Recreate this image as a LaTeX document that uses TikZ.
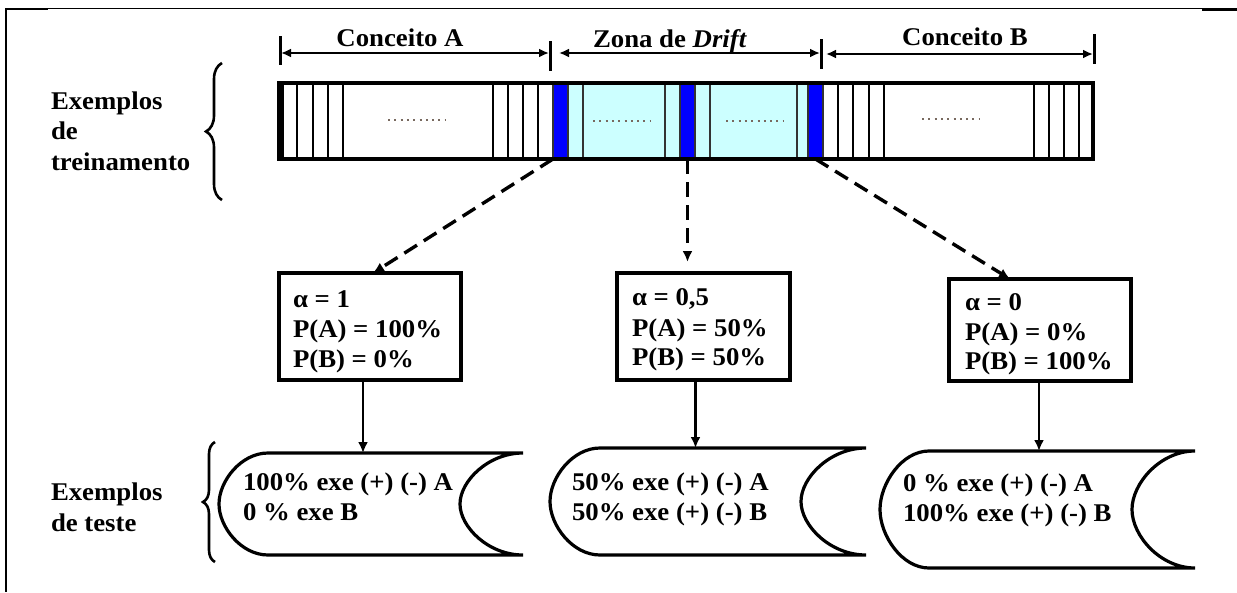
\documentclass[tikz,border=0pt]{standalone}
\usepackage{fontspec}
\setmainfont{Liberation Serif}[FakeStretch=1.05]
\usetikzlibrary{arrows.meta,decorations.pathreplacing,calc}
\definecolor{cellblue}{RGB}{0,0,255}
\definecolor{cellcyan}{RGB}{204,255,255}
\definecolor{dotcol}{RGB}{120,105,95}

% outline of a "stored data" flowchart symbol built on a named node
\newcommand\storeddata[3]{%
  \draw[scrollline] let \p1=(#1.north west), \p2=(#1.south east),
      \n1={(\y1-\y2)/2} in
    (\x1+#2,\y1) -- (\x2,\y1)
    .. controls (\x2-0.552*#3,\y1) and (\x2-#3,\y1-0.552*\n1) .. (\x2-#3,\y1-\n1)
    .. controls (\x2-#3,\y2+0.552*\n1) and (\x2-0.552*#3,\y2) .. (\x2,\y2)
    -- (\x1+#2,\y2)
    .. controls (\x1+#2-0.552*#2,\y2) and (\x1,\y2+0.552*\n1) .. (\x1,\y2+\n1)
    .. controls (\x1,\y1-0.552*\n1) and (\x1+#2-0.552*#2,\y1) .. (\x1+#2,\y1)
    -- cycle;}

\begin{document}
\begin{tikzpicture}[x=1pt,y=-1pt,
  lbl/.style={font=\fontsize{25.5}{30}\selectfont\bfseries, inner sep=0pt, outer sep=0pt},
  txt/.style={lbl, anchor=base west},
  ctxt/.style={lbl, anchor=base},
  tick/.style={line width=3pt},
  dimarrow/.style={line width=2.8pt, {Latex[length=10pt,width=9pt]}-{Latex[length=10pt,width=9pt]}},
  thinsep/.style={line width=1.6pt},
  cyancell/.style={fill=cellcyan, draw=black!80, line width=1.4pt},
  bluecell/.style={fill=cellblue, draw=black!80, line width=1.4pt, minimum width=15pt,
    minimum height=76pt, inner sep=0pt, outer sep=0pt, anchor=north west},
  dotsline/.style={dotcol, line width=2pt, dash pattern=on 2pt off 4.3pt},
  probbox/.style={draw, line width=3.6pt, inner sep=0pt, outer sep=0pt, anchor=north west},
  dasharrow/.style={line width=3.4pt, dash pattern=on 15pt off 8pt, -{Latex[length=11pt,width=10pt]}},
  solidarrow/.style={line width=2.8pt, -{Latex[length=11pt,width=10pt]}},
  scrollline/.style={line width=3.2pt},
  scrollnode/.style={inner sep=0pt, outer sep=0pt, anchor=north west},
  bracest/.style={decorate, line width=2.6pt}
]
\useasboundingbox (0,0) rectangle (1237,592);

% page frame fragments
\draw[line width=1.8pt] (5,8.5) -- (1237,8.5);
\draw[line width=2.8pt] (5,9) -- (48,9);
\draw[line width=2.8pt] (1202,9.5) -- (1237,9.5);
\draw[line width=2.8pt] (6,8) -- (6,592);

% side labels
\node[txt] (tr1) at (51,109) {Exemplos};
\node[txt] (tr2) at (51,139) {de};
\node[txt] (tr3) at (51,170) {treinamento};
\node[txt] (te1) at (51,500) {Exemplos};
\node[txt] (te2) at (51,531) {de teste};
\draw[bracest, decoration={brace, amplitude=16pt}] (222,200) -- (222,63);
\draw[bracest, decoration={brace, amplitude=12pt}] (215,562) -- (215,442);

% training stream: cyan drift cells
\draw[cyancell] (568,83) rectangle (583,159);
\draw[cyancell] (583,83) rectangle (665,159);
\draw[cyancell] (665,83) rectangle (680,159);
\draw[cyancell] (695,83) rectangle (710,159);
\draw[cyancell] (710,83) rectangle (797,159);
\draw[cyancell] (797,83) rectangle (808,159);
% blue marker cells
\node[bluecell] (bl1) at (553,83) {};
\node[bluecell] (bl2) at (680,83) {};
\node[bluecell] (bl3) at (808,83) {};
% example separators
\foreach \x in {297,313,328,343,493,508,523,538,838,853,869,884,1034,1049,1064,1079}
  \draw[thinsep] (\x,83) -- (\x,159);
% dotted fillers
\draw[dotsline] (388,120) -- (446,120);
\draw[dotsline] (593,121) -- (650,121);
\draw[dotsline] (726,121) -- (784,121);
\draw[dotsline] (922,119) -- (980,119);
% stream outline
\node[draw, line width=3.6pt, minimum width=814pt, minimum height=76pt, inner sep=0pt,
  outer sep=0pt, anchor=north west] (bar) at (279,83) {};
\draw[line width=5.5pt] (280.8,82) -- (280.8,160);

% concept spans
\draw[tick] (280,36) -- (280,65);
\draw[tick] (550,41) -- (550,71);
\draw[tick] (821,39) -- (821,69);
\draw[tick] (1094,34) -- (1094,64);
\draw[dimarrow] (281,53) -- (549,53);
\draw[dimarrow] (559,53) -- (820,53);
\draw[dimarrow] (826,54) -- (1093,54);
\node[ctxt] (ca) at (400,46) {Conceito A};
\node[ctxt] (zd) at (670,47) {Zona de \textit{Drift}};
\node[ctxt] (cb) at (965,45) {Conceito B};

% weighting boxes
\node[probbox, minimum width=182pt, minimum height=107pt] (b1) at (279,273) {};
\node[probbox, minimum width=173pt, minimum height=107pt] (b2) at (617,273) {};
\node[probbox, minimum width=182pt, minimum height=102pt] (b3) at (949,279) {};
\node[txt] at (293,307) {α = 1};
\node[txt] at (293,337) {P(A) = 100\%};
\node[txt] at (293,367) {P(B) = 0\%};
\node[txt] at (632,305) {α = 0,5};
\node[txt] at (632,336) {P(A) = 50\%};
\node[txt] at (632,365) {P(B) = 50\%};
\node[txt] at (965,310) {α = 0};
\node[txt] at (965,340) {P(A) = 0\%};
\node[txt] at (965,369) {P(B) = 100\%};

\draw[dasharrow] (bl1.south west) -- ([xshift=3pt]b1.north);
\draw[dasharrow, shorten >=11pt] (bl2.south) -- (bl2.south |- b2.north);
\draw[dasharrow] (bl3.south) -- ([xshift=-30pt]b3.north);

% test sets
\node[scrollnode, minimum width=304pt, minimum height=102pt] (s1) at (219,453) {};
\node[scrollnode, minimum width=316pt, minimum height=107pt] (s2) at (550,448) {};
\node[scrollnode, minimum width=315pt, minimum height=117pt] (s3) at (880,451) {};
\storeddata{s1}{49}{63}
\storeddata{s2}{50}{65}
\storeddata{s3}{49}{63}
\node[txt] at (243,490) {100\% exe (+) (-) A};
\node[txt] at (243,520) {0 \% exe B};
\node[txt] at (572,490) {50\% exe (+) (-) A};
\node[txt] at (572,520) {50\% exe (+) (-) B};
\node[txt] at (903,491) {0 \% exe (+) (-) A};
\node[txt] at (903,521) {100\% exe (+) (-) B};

\draw[solidarrow] ([xshift=-7pt]b1.south) -- ([xshift=-7pt]b1.south |- s1.north);
\draw[solidarrow] ([xshift=-8pt]b2.south) -- ([xshift=-8pt]b2.south |- s2.north);
\draw[solidarrow] ([xshift=-1pt]b3.south) -- ([xshift=-1pt]b3.south |- s3.north);
\end{tikzpicture}
\end{document}
